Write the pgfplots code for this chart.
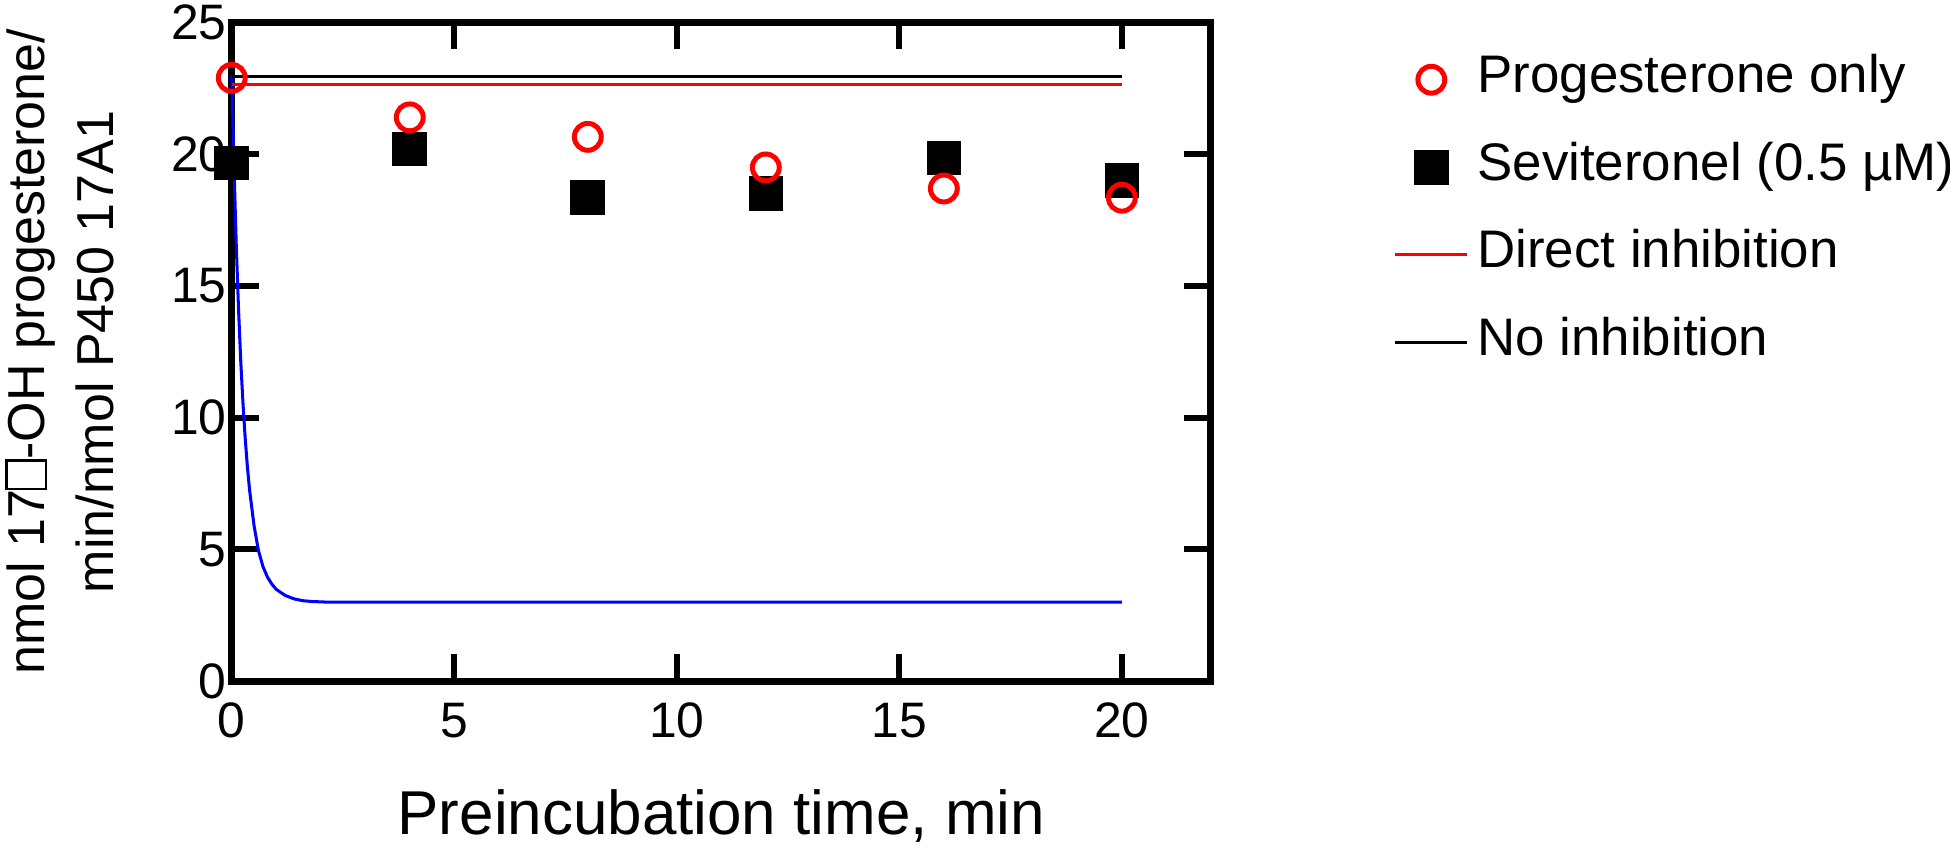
\documentclass[border=0pt]{standalone}
\usepackage{pgfplots}
\pgfplotsset{compat=1.18}
\usepackage{fontspec}
\setmainfont{Liberation Sans}
% missing-glyph box as it appears in the original label
\newcommand{\tofu}{{\setlength{\fboxsep}{0pt}\setlength{\fboxrule}{0.5pt}\fbox{\rule{0pt}{0.72em}\hspace{0.5em}}}}
\pgfplotsset{
  markleg/.style={legend image code/.code={\draw[##1] plot coordinates {(8.3pt,0pt)};}},
  lineleg/.style={legend image code/.code={\draw[##1] (0pt,0pt) -- (16.6pt,0pt);}},
}

\begin{document}
\begin{tikzpicture}
\begin{axis}[
  scale only axis,
  width=226pt, height=152pt,
  xmin=0, xmax=22, ymin=0, ymax=25,
  xtick={0,5,10,15,20}, ytick={0,5,10,15,20,25},
  tick align=inside,
  major tick length=6.2pt,
  every tick/.style={black, line width=1.4pt},
  axis line style={line width=1.6pt},
  clip=false,
  /pgf/number format/assume math mode=true,
  tick label style={font=\fontsize{11.5}{12}\selectfont},
  yticklabel style={inner sep=0pt, xshift=-1pt},
  xticklabel style={yshift=-1.5pt},
  xlabel={Preincubation time, min},
  xlabel style={font=\fontsize{14.3}{16}\selectfont, yshift=-5pt},
  ylabel={nmol 17\tofu-OH progesterone/\\min/nmol P450 17A1},
  ylabel style={font=\fontsize{12}{15.7}\selectfont, align=center,
    at={(axis description cs:-0.176,0.5)}, anchor=center},
  legend cell align=left,
  legend style={at={(1.186,1)}, anchor=north west, yshift=-5pt,
    draw=none, fill=none, inner sep=0pt, row sep=4.2pt,
    font=\fontsize{12.2}{14}\selectfont,
    nodes={inner sep=2pt, text height=9pt, text depth=3pt}},
]
\coordinate (O) at (rel axis cs:0,0);

\addlegendimage{only marks, mark=o, red, mark size=3.1pt, line width=1.15pt, markleg}
\addlegendentry{Progesterone only}
\addlegendimage{only marks, mark=square*, black, mark size=3.8pt, markleg}
\addlegendentry{Seviteronel (0.5 µM)}
\addlegendimage{red, line width=0.7pt, lineleg}
\addlegendentry{Direct inhibition}
\addlegendimage{black, line width=0.7pt, lineleg}
\addlegendentry{No inhibition}

% time-dependent inhibition curve
\addplot[blue, line width=0.7pt, forget plot] coordinates {
  (0,23) (0.05,19.5) (0.1,16.6) (0.15,14.2) (0.2,12.2) (0.25,10.6)
  (0.3,9.25) (0.35,8.15) (0.4,7.25) (0.5,5.9) (0.6,4.95) (0.7,4.35)
  (0.8,3.95) (0.9,3.68) (1.0,3.48) (1.2,3.25) (1.4,3.12) (1.6,3.05)
  (1.8,3.02) (2.1,3.0) (20,3.0)
};
\addplot[black, line width=0.7pt, forget plot] coordinates {(0,22.95) (20,22.95)};
\addplot[red, line width=0.7pt, forget plot] coordinates {(0,22.65) (20,22.65)};

\addplot[only marks, mark=square*, black, mark size=3.8pt, forget plot] coordinates {
  (0,19.67) (4,20.2) (8,18.35) (12,18.5) (16,19.86) (20,19.0)
};
\addplot[only marks, mark=o, red, mark size=3.1pt, line width=1.15pt, forget plot] coordinates {
  (0,22.9) (4,21.4) (8,20.66) (12,19.5) (16,18.7) (20,18.35)
};
\end{axis}
\pgfresetboundingbox
\useasboundingbox ([xshift=-53.5pt,yshift=-39pt]O) rectangle ([xshift=396.6pt,yshift=157.2pt]O);
\end{tikzpicture}
\end{document}
